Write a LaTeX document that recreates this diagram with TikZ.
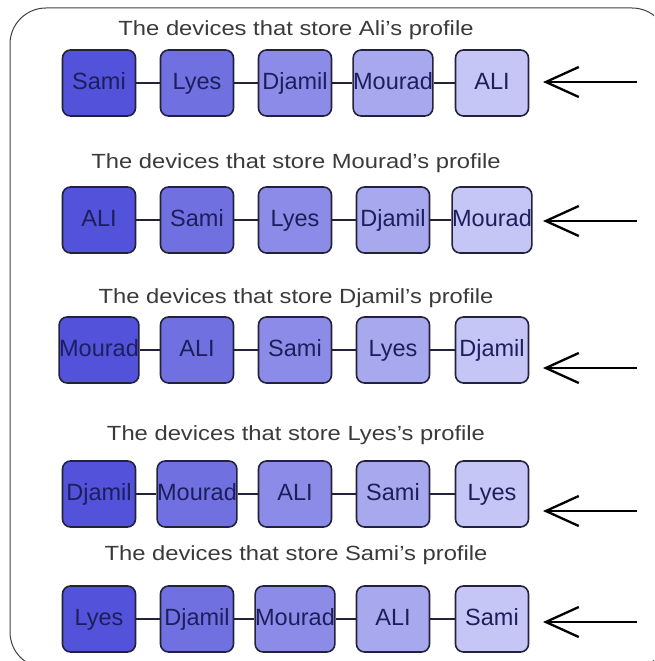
\documentclass[tikz,border=0pt]{standalone}
\usepackage{fontspec}
\setmainfont{Liberation Sans}
\usetikzlibrary{arrows.meta,backgrounds}
\definecolor{c1}{HTML}{5252DA}
\definecolor{c2}{HTML}{7070E0}
\definecolor{c3}{HTML}{8C8CE8}
\definecolor{c4}{HTML}{A8A8EE}
\definecolor{c5}{HTML}{C6C6F6}
\definecolor{bordercol}{HTML}{22223A}
\definecolor{labelcol}{HTML}{1E1E5C}
\definecolor{titlecol}{HTML}{3A3A3A}
\tikzset{
  dev/.style={draw=bordercol, line width=1.6pt, rounded corners=8pt,
    minimum width=73pt, minimum height=66pt, inner sep=0pt,
    text height=16.5pt, text depth=4.5pt,
    text=labelcol, font=\fontsize{23.5}{23.5}\selectfont},
  link/.style={draw=bordercol, line width=1.4pt},
  title/.style={text=titlecol, font=\fontsize{20.5}{21}\selectfont, inner sep=0pt},
  inarrow/.style={draw=black, line width=2.5pt, -{Straight Barb[length=33pt,width=30pt,line width=2.3pt]}},
  frame/.style={draw=black!75, line width=1pt, rounded corners=36pt}
}
\begin{document}
\begin{tikzpicture}[x=1pt,y=-1pt]
\useasboundingbox (0,0) rectangle (654,661);
\begin{scope}
\clip (0,0) rectangle (654,661);
\draw[frame] (10,8) rectangle (668,668);
\end{scope}
% rows: y of boxes, y of title, y of arrow
\foreach \r/\by/\ty/\ay/\name/\a/\b/\c/\d/\e in {
  1/83/30/82/Ali/Sami/Lyes/Djamil/Mourad/ALI,
  2/220/163/221/Mourad/ALI/Sami/Lyes/Djamil/Mourad,
  3/350/298/368/Djamil/Mourad/ALI/Sami/Lyes/Djamil,
  4/494/435/511/Lyes/Djamil/Mourad/ALI/Sami/Lyes,
  5/619/555/622/Sami/Lyes/Djamil/Mourad/ALI/Sami}{
  \node[title] (t\r) at (296,\ty) {\scalebox{1.16}[1]{The devices that store \name's profile}};
  \node[dev, fill=c1] (n\r a) at (99,\by) {\a};
  \node[dev, fill=c2] (n\r b) at (197,\by) {\b};
  \node[dev, fill=c3] (n\r c) at (295,\by) {\c};
  \node[dev, fill=c4] (n\r d) at (393,\by) {\d};
  \node[dev, fill=c5] (n\r e) at (492,\by) {\e};
  \begin{scope}[on background layer]
    \draw[link] (n\r a) -- (n\r b);
    \draw[link] (n\r b) -- (n\r c);
    \draw[link] (n\r c) -- (n\r d);
    \draw[link] (n\r d) -- (n\r e);
  \end{scope}
  \coordinate (s\r) at (637,\ay);
  \coordinate (e\r) at (543,\ay);
  \draw[inarrow] (s\r) -- (e\r);
}
\end{tikzpicture}
\end{document}
